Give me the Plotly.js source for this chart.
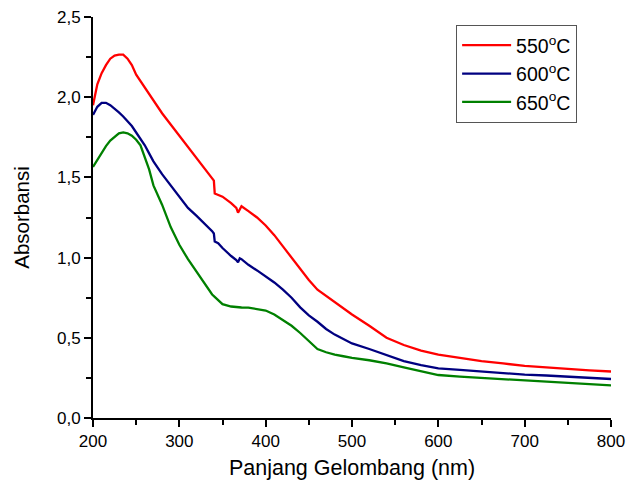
<!DOCTYPE html>
<html>
<head>
<meta charset="utf-8">
<script src="https://cdn.plot.ly/plotly-3.0.1.min.js"></script>
<style>html,body{margin:0;padding:0;background:#fff;}#chart{width:626px;height:484px;}</style>
</head>
<body>
<div id="chart"></div>
<script>
var wavelength = [200,205,210,215,220,225,230,235,240,245,250,255,260,265,270,280,290,300,310,320,330,338,340,341,345,350,360,366,368,370,372,380,390,400,410,420,430,440,450,460,470,480,490,500,520,540,560,580,600,625,650,675,700,725,750,775,800];
var abs550 = [1.95,2.08,2.15,2.20,2.24,2.26,2.265,2.265,2.24,2.20,2.14,2.10,2.06,2.02,1.98,1.90,1.83,1.76,1.69,1.62,1.55,1.49,1.48,1.40,1.39,1.38,1.34,1.31,1.28,1.30,1.32,1.29,1.25,1.20,1.14,1.07,1.00,0.925,0.86,0.80,0.76,0.72,0.685,0.645,0.575,0.50,0.455,0.42,0.395,0.375,0.355,0.34,0.325,0.315,0.305,0.297,0.29];
var abs600 = [1.89,1.94,1.965,1.965,1.95,1.93,1.905,1.88,1.85,1.82,1.78,1.74,1.70,1.65,1.60,1.52,1.45,1.38,1.31,1.26,1.21,1.165,1.15,1.10,1.09,1.06,1.01,0.985,0.97,0.995,0.99,0.955,0.92,0.885,0.845,0.80,0.75,0.69,0.64,0.60,0.555,0.52,0.49,0.465,0.43,0.39,0.355,0.33,0.31,0.30,0.29,0.28,0.27,0.265,0.258,0.25,0.243];
var abs650 = [1.565,1.61,1.65,1.695,1.73,1.755,1.775,1.78,1.775,1.76,1.735,1.70,1.63,1.55,1.45,1.33,1.19,1.08,0.99,0.91,0.83,0.77,0.76,0.755,0.73,0.71,0.695,0.69,0.69,0.69,0.689,0.688,0.68,0.67,0.645,0.61,0.575,0.53,0.48,0.43,0.41,0.395,0.385,0.375,0.36,0.34,0.315,0.29,0.268,0.258,0.25,0.24,0.232,0.225,0.218,0.21,0.203];
var seriesNames = ['550<sup>o</sup>C','600<sup>o</sup>C','650<sup>o</sup>C'];
var seriesColors = ['#ff0000','#000080','#008000'];
var seriesValues = [abs550, abs600, abs650];

var traces = seriesValues.map(function(v,i){
  return {x: wavelength, y: v, type:'scatter', mode:'lines', name: seriesNames[i],
    line:{color: seriesColors[i], width:2.3}};
});

var fam = 'Liberation Sans, Arial, sans-serif';
var axisCommon = {
  showline:true, linecolor:'#000', linewidth:2, mirror:false,
  ticks:'outside', ticklen:7, tickwidth:2, tickcolor:'#000',
  showgrid:false, zeroline:false,
  tickfont:{family:fam, size:17, color:'#000'}
};
var layout = {
  width:626, height:484,
  margin:{l:93, r:15, t:17, b:66},
  paper_bgcolor:'#fff', plot_bgcolor:'#fff',
  separators:',.',
  showlegend:true,
  legend:{x:0.701, y:0.98, xanchor:'left', yanchor:'top',
    bordercolor:'#555', borderwidth:1, bgcolor:'#fff',
    font:{family:fam, size:19.5, color:'#000'},
    tracegroupgap:0, itemwidth:49},
  xaxis: Object.assign({}, axisCommon, {
    range:[200,800], dtick:100, tick0:200,
    minor:{dtick:50, ticklen:5, tickwidth:2, tickcolor:'#000', ticks:'outside'},
    title:{text:'Panjang Gelombang (nm)', standoff:10,
      font:{family:fam, size:21.5, color:'#000'}}
  }),
  yaxis: Object.assign({}, axisCommon, {
    range:[0,2.5], dtick:0.5, tick0:0, tickformat:'.1f',
    minor:{dtick:0.25, ticklen:5, tickwidth:2, tickcolor:'#000', ticks:'outside'},
    title:{text:'Absorbansi', standoff:22,
      font:{family:fam, size:20.5, color:'#000'}}
  })
};
Plotly.newPlot('chart', traces, layout, {displayModeBar:false, staticPlot:true});
</script>
</body>
</html>
